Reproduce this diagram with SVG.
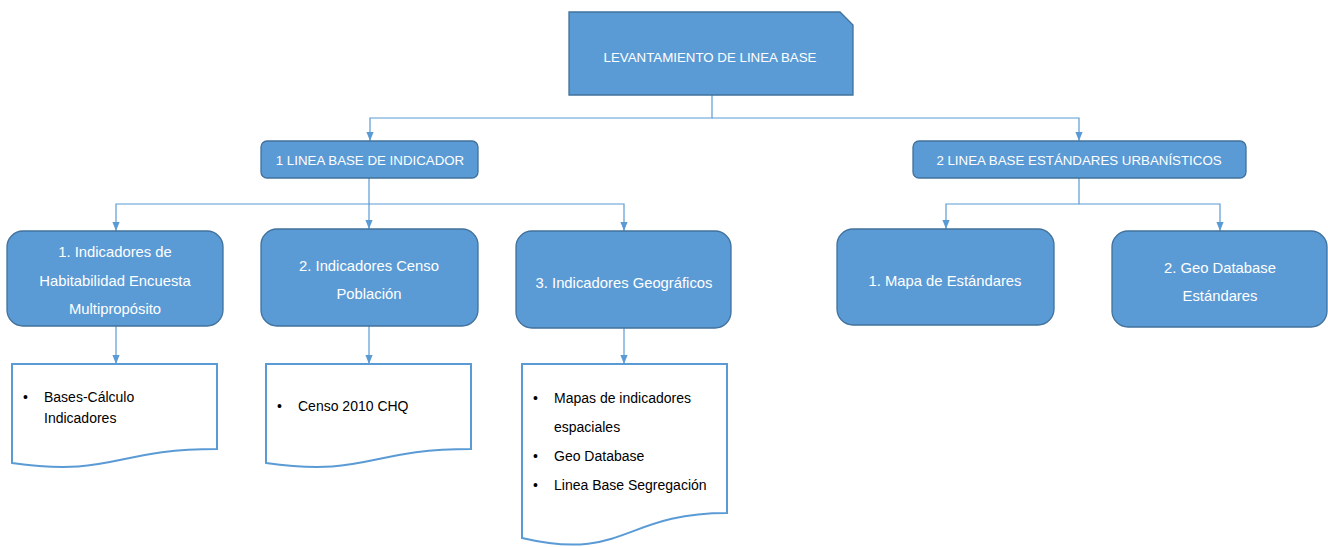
<svg xmlns="http://www.w3.org/2000/svg" width="1328" height="547" viewBox="0 0 1328 547">
<style>
.box{fill:#5b9bd5;stroke:#41719c;stroke-width:1.3}
.doc{fill:#ffffff;stroke:#5b9bd5;stroke-width:2}
.con{fill:none;stroke:#5b9bd5;stroke-width:1.2}
.wt{fill:#ffffff;font-family:"Liberation Sans",Arial,sans-serif;text-anchor:middle}
.t1{font-size:13.3px}
.t3{font-size:14.8px}
.dt{fill:#000000;font-family:"Liberation Sans",Arial,sans-serif;font-size:14px}
</style>
<defs>
<marker id="arr" viewBox="0 0 10 8" refX="10" refY="4" markerWidth="9" markerHeight="8" markerUnits="userSpaceOnUse" orient="auto">
<path d="M0,0 L10,4 L0,8 Z" fill="#5b9bd5"/>
</marker>
</defs>
<rect width="1328" height="547" fill="#ffffff"/>
<g id="connectors">
<path class="con" d="M712,95 V118 H370 V141" marker-end="url(#arr)"/>
<path class="con" d="M712,118 H1079 V141" marker-end="url(#arr)"/>
<path class="con" d="M369,178 V204 H116 V231" marker-end="url(#arr)"/>
<path class="con" d="M369,204 V229" marker-end="url(#arr)"/>
<path class="con" d="M369,204 H624 V231" marker-end="url(#arr)"/>
<path class="con" d="M1079,178 V204 H946 V229" marker-end="url(#arr)"/>
<path class="con" d="M1079,204 H1220 V231" marker-end="url(#arr)"/>
<path class="con" d="M116,326 V364" marker-end="url(#arr)"/>
<path class="con" d="M369,326 V364" marker-end="url(#arr)"/>
<path class="con" d="M624,328 V364" marker-end="url(#arr)"/>
</g>
<g id="root">
<path class="box" d="M569,12 H840 L853,25 V95 H569 Z"/>
<text class="wt t1" x="710" y="62">LEVANTAMIENTO DE LINEA BASE</text>
</g>
<g id="n1">
<rect class="box" x="261" y="141" width="217" height="37" rx="6"/>
<text class="wt t1" x="370" y="165">1 LINEA BASE DE INDICADOR</text>
</g>
<g id="n2">
<rect class="box" x="913" y="141" width="333" height="37" rx="6"/>
<text class="wt t1" x="1079" y="165">2 LINEA BASE ESTÁNDARES URBANÍSTICOS</text>
</g>
<g id="n11">
<rect class="box" x="7" y="231" width="216" height="95" rx="16"/>
<text class="wt t3" x="115" y="257">1. Indicadores de</text>
<text class="wt t3" x="115" y="286">Habitabilidad Encuesta</text>
<text class="wt t3" x="115" y="314">Multipropósito</text>
</g>
<g id="n12">
<rect class="box" x="261" y="229" width="217" height="97" rx="16"/>
<text class="wt t3" x="369" y="271">2. Indicadores Censo</text>
<text class="wt t3" x="369" y="299">Población</text>
</g>
<g id="n13">
<rect class="box" x="516" y="231" width="215" height="97" rx="16"/>
<text class="wt t3" x="624" y="288">3. Indicadores Geográficos</text>
</g>
<g id="n21">
<rect class="box" x="837" y="229" width="217" height="96" rx="16"/>
<text class="wt t3" x="945" y="286">1. Mapa de Estándares</text>
</g>
<g id="n22">
<rect class="box" x="1112" y="231" width="215" height="96" rx="16"/>
<text class="wt t3" x="1220" y="273">2. Geo Database</text>
<text class="wt t3" x="1220" y="301">Estándares</text>
</g>
<g id="d11">
<path class="doc" d="M12,364 H217 V449 C114,449 114,477 12,463 Z"/>
<text class="dt" x="23" y="402">•</text>
<text class="dt" x="44" y="402">Bases-Cálculo</text>
<text class="dt" x="44" y="423">Indicadores</text>
</g>
<g id="d12">
<path class="doc" d="M266,364 H471 V449 C368,449 368,477 266,463 Z"/>
<text class="dt" x="277" y="411">•</text>
<text class="dt" x="298" y="411">Censo 2010 CHQ</text>
</g>
<g id="d13">
<path class="doc" d="M522,364 H727 V513 C624,513 624,562 522,538 Z"/>
<text class="dt" x="533" y="403">•</text>
<text class="dt" x="554" y="403">Mapas de indicadores</text>
<text class="dt" x="554" y="432">espaciales</text>
<text class="dt" x="533" y="461">•</text>
<text class="dt" x="554" y="461">Geo Database</text>
<text class="dt" x="533" y="490">•</text>
<text class="dt" x="554" y="490">Linea Base Segregación</text>
</g>
</svg>
